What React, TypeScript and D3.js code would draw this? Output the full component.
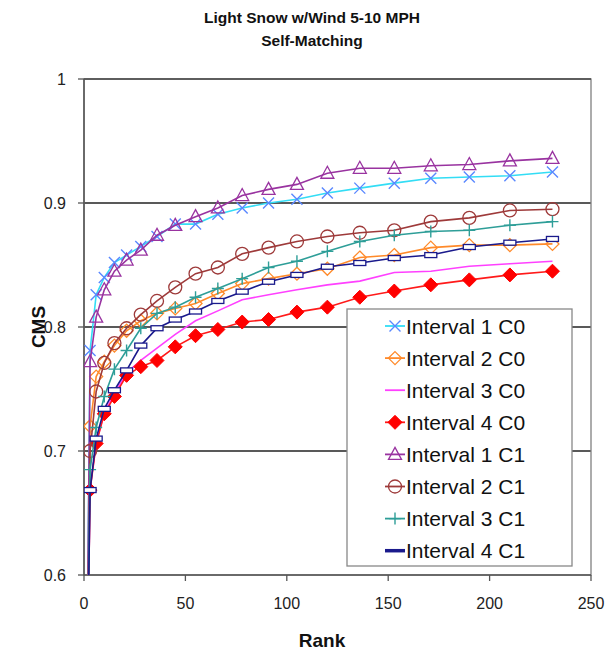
import React from "react";
import * as d3 from "d3";

const RANKS = [1, 3, 6, 10, 15, 21, 28, 36, 45, 55, 66, 78, 91, 105, 120, 136, 153, 171, 190, 210, 231];

const I1C0 = [0.45, 0.781, 0.826, 0.840, 0.852, 0.858, 0.865, 0.873, 0.883, 0.883, 0.891, 0.896, 0.900, 0.903, 0.908, 0.912, 0.916, 0.920, 0.921, 0.922, 0.925];
const I2C0 = [0.45, 0.720, 0.760, 0.772, 0.785, 0.797, 0.805, 0.811, 0.815, 0.819, 0.827, 0.835, 0.839, 0.843, 0.847, 0.856, 0.858, 0.864, 0.866, 0.866, 0.867];
const I3C0 = [0.45, 0.670, 0.706, 0.731, 0.746, 0.763, 0.773, 0.783, 0.794, 0.805, 0.813, 0.822, 0.826, 0.830, 0.834, 0.837, 0.844, 0.845, 0.849, 0.851, 0.853];
const I4C0 = [0.45, 0.6685, 0.706, 0.730, 0.744, 0.761, 0.768, 0.773, 0.784, 0.793, 0.798, 0.804, 0.806, 0.812, 0.816, 0.824, 0.829, 0.834, 0.838, 0.842, 0.845];
const I1C1 = [0.45, 0.772, 0.808, 0.830, 0.845, 0.854, 0.862, 0.874, 0.882, 0.889, 0.896, 0.906, 0.911, 0.915, 0.924, 0.928, 0.928, 0.930, 0.931, 0.934, 0.936];
const I2C1 = [0.45, 0.700, 0.748, 0.771, 0.787, 0.799, 0.810, 0.821, 0.832, 0.843, 0.848, 0.859, 0.864, 0.869, 0.873, 0.876, 0.878, 0.885, 0.888, 0.894, 0.895];
const I3C1 = [0.45, 0.685, 0.719, 0.744, 0.766, 0.781, 0.799, 0.811, 0.816, 0.824, 0.831, 0.839, 0.848, 0.853, 0.861, 0.869, 0.874, 0.877, 0.878, 0.882, 0.885];
const I4C1 = [0.45, 0.6685, 0.710, 0.734, 0.749, 0.765, 0.785, 0.799, 0.806, 0.8125, 0.821, 0.8285, 0.8365, 0.842, 0.8486, 0.8516, 0.8556, 0.858, 0.8645, 0.868, 0.871];

const SERIES_NAMES = ["Interval 1 C0", "Interval 2 C0", "Interval 3 C0", "Interval 4 C0", "Interval 1 C1", "Interval 2 C1", "Interval 3 C1", "Interval 4 C1"];
const SERIES_VALUES = [I1C0, I2C0, I3C0, I4C0, I1C1, I2C1, I3C1, I4C1];
const LINE_COLORS = ["#33DDF5", "#FF8A2A", "#FF40FF", "#FF1A1A", "#9933A0", "#9E3A3A", "#2E9E98", "#1A1A8C"];
const MARKER_COLORS = ["#5A88FF", "#FF8A2A", "none", "#FF0000", "#9933A0", "#9E3A3A", "#2E9E98", "#1A1A8C"];
const MARKERS = ["x", "diamond", "none", "diamondFilled", "triangle", "circle", "plus", "dash"];

const X_TICKS = [0, 50, 100, 150, 200, 250];
const Y_TICKS = [0.6, 0.7, 0.8, 0.9, 1];
const Y_TICK_LABELS = ["0.6", "0.7", "0.8", "0.9", "1"];
const TITLE = ["Light Snow w/Wind 5-10 MPH", "Self-Matching"];

const W = 605;
const H = 653;
const M = { left: 84, right: 591, top: 79, bottom: 575 };
const FONT = "'Liberation Sans', Arial, Helvetica, sans-serif";

function Marker({ type, x, y, color }: { type: string; x: number; y: number; color: string }) {
  const s = 5.5;
  if (type === "x")
    return <path d={`M${x - s},${y - s}L${x + s},${y + s}M${x - s},${y + s}L${x + s},${y - s}`} stroke={color} strokeWidth={1.4} fill="none" />;
  if (type === "diamond")
    return <path d={`M${x},${y - 6.5}L${x + 6.5},${y}L${x},${y + 6.5}L${x - 6.5},${y}Z`} stroke={color} strokeWidth={1.3} fill="none" />;
  if (type === "diamondFilled")
    return <path d={`M${x},${y - 7}L${x + 7},${y}L${x},${y + 7}L${x - 7},${y}Z`} stroke={color} strokeWidth={1} fill={color} />;
  if (type === "triangle")
    return <path d={`M${x},${y - 7}L${x + 6.5},${y + 5}L${x - 6.5},${y + 5}Z`} stroke={color} strokeWidth={1.3} fill="none" />;
  if (type === "circle") return <circle cx={x} cy={y} r={6.5} stroke={color} strokeWidth={1.3} fill="none" />;
  if (type === "plus")
    return <path d={`M${x - 6},${y}L${x + 6},${y}M${x},${y - 6}L${x},${y + 6}`} stroke={color} strokeWidth={1.4} fill="none" />;
  if (type === "dash") return <rect x={x - 6} y={y - 2.5} width={12} height={5} stroke={color} strokeWidth={1.3} fill="#fff" />;
  return null;
}

export default function App() {
  const x = d3.scaleLinear().domain([0, 250]).range([M.left, M.right]);
  const y = d3.scaleLinear().domain([0.6, 1]).range([M.bottom, M.top]);
  const line = d3
    .line<[number, number]>()
    .x((d) => x(d[0]))
    .y((d) => y(d[1]));

  const legend = { x: 347, y: 309, w: 225, h: 257 };

  return (
    <svg width={W} height={H} style={{ display: "block", position: "absolute", left: 0, top: 0 }} fontFamily={FONT}>
      <rect width={W} height={H} fill="#fff" />
      <defs>
        <clipPath id="plotClip">
          <rect x={M.left} y={M.top} width={M.right - M.left} height={M.bottom - M.top} />
        </clipPath>
      </defs>
      {/* title */}
      <text x={312} y={23} textAnchor="middle" fontWeight="bold" fontSize={15.5} fill="#111">
        {TITLE[0]}
      </text>
      <text x={312} y={46} textAnchor="middle" fontWeight="bold" fontSize={15.5} fill="#111">
        {TITLE[1]}
      </text>

      {/* gridlines */}
      {Y_TICKS.filter((t) => t > 0.6 && t < 1).map((t) => (
        <line key={t} x1={M.left} x2={M.right} y1={y(t)} y2={y(t)} stroke="#222" strokeWidth={1.3} />
      ))}
      {/* plot frame */}
      <rect x={M.left} y={M.top} width={M.right - M.left} height={M.bottom - M.top} fill="none" stroke="#808080" strokeWidth={1.3} />
      <line x1={M.left} x2={M.right} y1={M.top} y2={M.top} stroke="#444" strokeWidth={1.3} />
      <line x1={M.left} x2={M.left} y1={M.top} y2={M.bottom} stroke="#555" strokeWidth={1.5} />
      <line x1={M.left} x2={M.right} y1={M.bottom} y2={M.bottom} stroke="#555" strokeWidth={1.5} />

      {/* ticks */}
      {Y_TICKS.map((t, i) => (
        <g key={t}>
          <line x1={M.left - 6} x2={M.left} y1={y(t)} y2={y(t)} stroke="#555" strokeWidth={1.3} />
          <text x={M.left - 18} y={y(t) + 6} textAnchor="end" fontSize={16} fill="#222">
            {Y_TICK_LABELS[i]}
          </text>
        </g>
      ))}
      {X_TICKS.map((t) => (
        <g key={t}>
          <line x1={x(t)} x2={x(t)} y1={M.bottom} y2={M.bottom + 6} stroke="#555" strokeWidth={1.3} />
          <text x={x(t)} y={M.bottom + 34} textAnchor="middle" fontSize={16} fill="#222">
            {t}
          </text>
        </g>
      ))}

      {/* axis titles */}
      <text x={322} y={647} textAnchor="middle" fontWeight="bold" fontSize={19} fill="#111">
        Rank
      </text>
      <text transform={`translate(45,327) rotate(-90)`} textAnchor="middle" fontWeight="bold" fontSize={19} fill="#111">
        CMS
      </text>

      {/* series */}
      <g clipPath="url(#plotClip)">
        {SERIES_VALUES.map((vals, si) => {
          const pts: [number, number][] = RANKS.map((r, i) => [r, vals[i]]);
          return (
            <g key={si}>
              <path d={line(pts) || ""} fill="none" stroke={LINE_COLORS[si]} strokeWidth={1.6} />
              {MARKERS[si] !== "none" &&
                pts.map((p, i) => <Marker key={i} type={MARKERS[si]} x={x(p[0])} y={y(p[1])} color={MARKER_COLORS[si]} />)}
            </g>
          );
        })}
      </g>

      {/* legend */}
      <rect x={legend.x} y={legend.y} width={legend.w} height={legend.h} fill="#fff" stroke="#888" strokeWidth={1.3} />
      {SERIES_NAMES.map((name, i) => {
        const cy = legend.y + 17 + i * 32.1;
        return (
          <g key={name}>
            <line x1={385} x2={405} y1={cy} y2={cy} stroke={LINE_COLORS[i]} strokeWidth={MARKERS[i] === "dash" ? 3.5 : 1.8} />
            {MARKERS[i] !== "none" && MARKERS[i] !== "dash" && <Marker type={MARKERS[i]} x={395} y={cy} color={MARKER_COLORS[i]} />}
            <text x={406} y={cy + 7.5} fontSize={21} fill="#111">
              {name}
            </text>
          </g>
        );
      })}
    </svg>
  );
}
